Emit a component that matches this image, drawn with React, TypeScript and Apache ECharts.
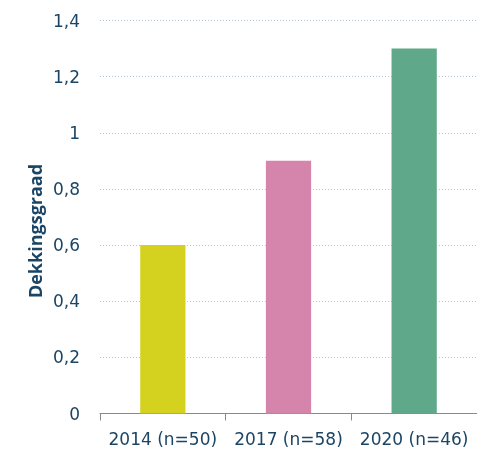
import React, { useEffect, useRef } from "react";
import * as echarts from "echarts";

const categories = ["2014 (n=50)", "2017 (n=58)", "2020 (n=46)"];
const values = [0.6, 0.9, 1.3];
const barColors = ["#d4d21f", "#d585ab", "#5fa98a"];
const yTitle = "Dekkingsgraad";

const textColor = "#1b4565";
const labelFont = "'DejaVu Sans', sans-serif";
const titleFont = "'Open Sans', sans-serif";

export default function App() {
  const ref = useRef<HTMLDivElement>(null);
  useEffect(() => {
    if (!ref.current) return;
    const chart = echarts.init(ref.current, null, { renderer: "svg" });
    chart.setOption({
      animation: false,
      grid: { left: 100, right: -3, top: 20.5, bottom: 39.5, containLabel: false },
      xAxis: {
        type: "category",
        data: categories,
        axisLine: { lineStyle: { color: "#8a8a8a", width: 1 } },
        axisTick: { show: true, interval: 0, length: 7, lineStyle: { color: "#8a8a8a" } },
        axisLabel: {
          color: textColor,
          fontSize: 17,
          fontFamily: labelFont,
          margin: 17,
          interval: 0,
          hideOverlap: false,
        },
      },
      yAxis: {
        type: "value",
        min: 0,
        max: 1.4,
        interval: 0.2,
        axisLine: { show: false },
        axisTick: { show: false },
        axisLabel: {
          color: textColor,
          fontSize: 17,
          fontFamily: labelFont,
          margin: 20,
          formatter: (v: number) => String(Math.round(v * 10) / 10).replace(".", ","),
        },
        splitLine: { lineStyle: { color: "#b3c6d8", type: [1, 2], width: 1 } },
      },
      graphic: [
        {
          type: "text",
          x: 35,
          y: 231,
          rotation: Math.PI / 2,
          style: {
            text: yTitle,
            fill: textColor,
            font: `bold 18px ${titleFont}`,
            textAlign: "center",
            textVerticalAlign: "middle",
          },
        },
      ],
      series: [
        {
          type: "bar",
          barWidth: "36%",
          data: values.map((v, i) => ({ value: v, itemStyle: { color: barColors[i] } })),
        },
      ],
    });
    return () => chart.dispose();
  }, []);
  return (
    <div
      ref={ref}
      style={{ position: "fixed", left: 0, top: 0, width: 477, height: 453, overflow: "hidden" }}
    />
  );
}
